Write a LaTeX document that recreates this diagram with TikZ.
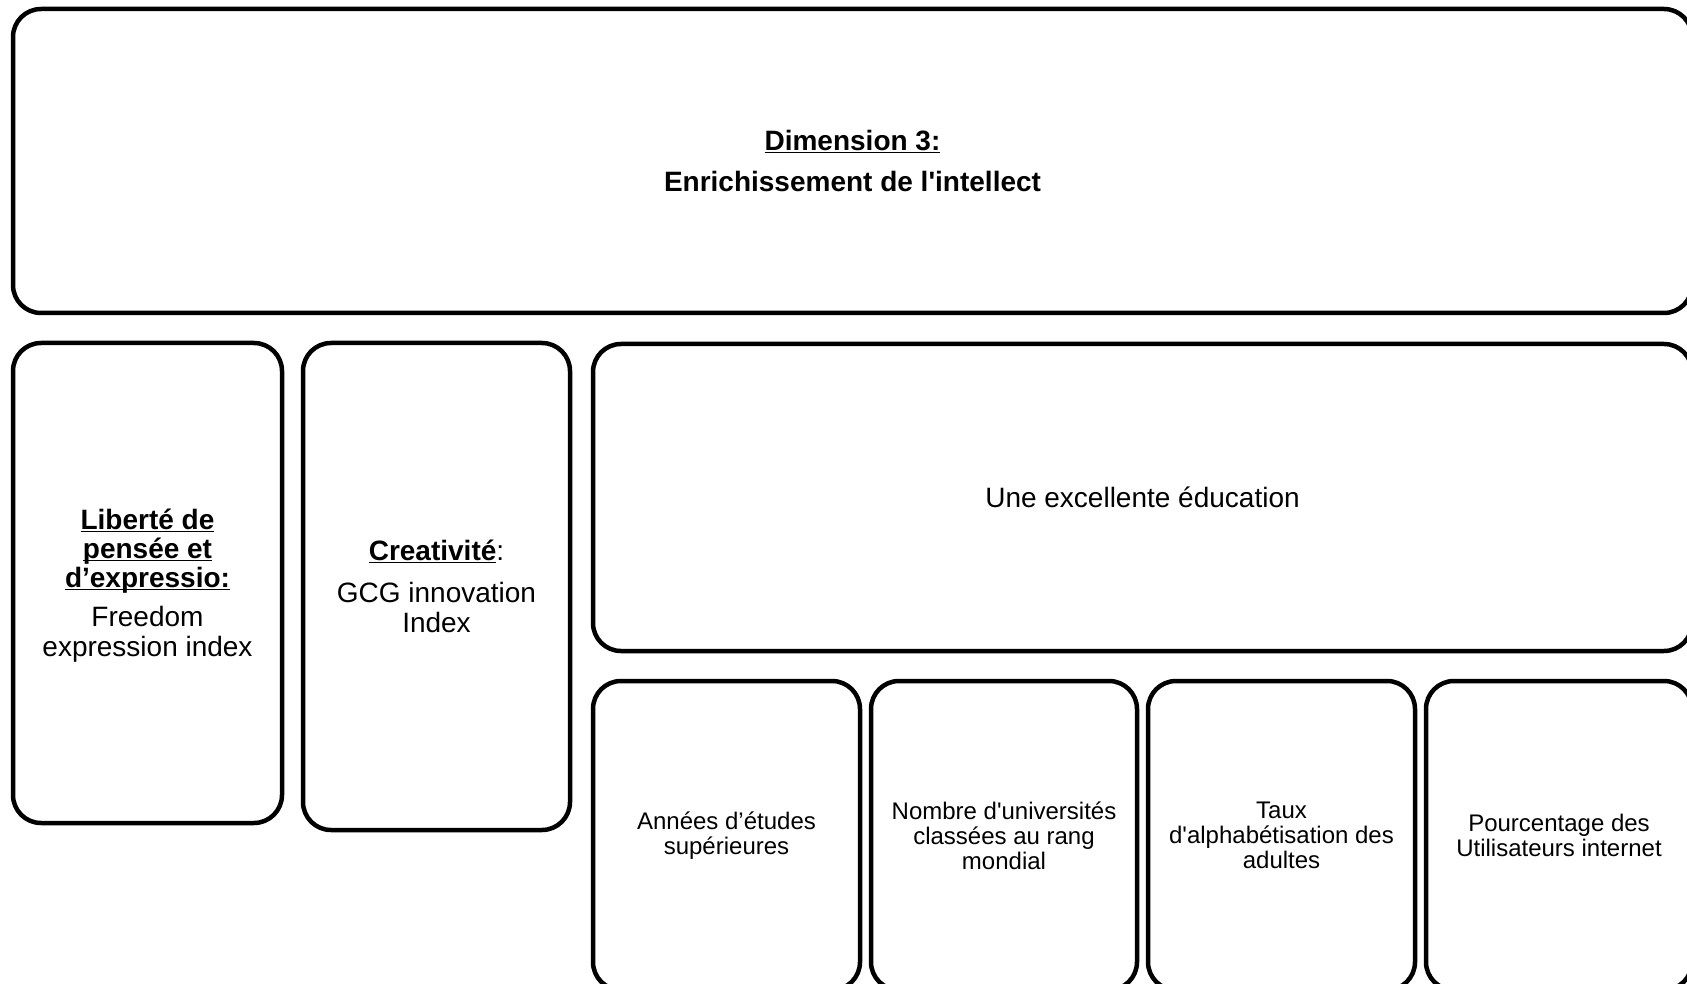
\documentclass[tikz,border=0pt]{standalone}
\usepackage{fontspec}
\setmainfont{Liberation Sans}[Ligatures=TeXOff]
\usepackage{tikz}
\usetikzlibrary{positioning}
\newcommand{\uln}[1]{\underline{\smash{#1}}}

\begin{document}
\begin{tikzpicture}[x=1pt,y=-1pt,
	box/.style={draw,line width=4.5pt,rounded corners=28pt,inner sep=0pt,align=center},
	big/.style={font=\fontsize{28}{30}\selectfont,align=center},
	small/.style={font=\fontsize{24}{25}\selectfont}]
	\useasboundingbox (0,0) rectangle (1687,984);
	\clip (0,0) rectangle (1687,984);
	% dimension
	\node (dim) at (852.5,161) [box,minimum width=1679,minimum height=304] {};
	\node (dimtxt) at ([yshift=-10pt]dim.center) [big]
		{\textbf{\uln{Dimension 3:}}\\[11pt]\textbf{Enrichissement de l'intellect}};
	% left column
	\node (lib) at (147.5,583) [box,minimum width=269,minimum height=480] {};
	\node (libtxt) at ([yshift=-13pt]lib.center) [big]
		{\textbf{\uln{Liberté de}}\\[-1pt]\textbf{\uln{pensée et}}\\[-1pt]\textbf{\uln{d’expressio:}}\\[9pt]Freedom\\expression index};
	\node (crea) at (436.5,586.5) [box,minimum width=267,minimum height=487] {};
	\node (creatxt) at ([yshift=-3pt]crea.center) [big]
		{\textbf{\uln{Creativité}}:\\[12pt]GCG innovation\\Index};
	% education
	\node (edu) at (1142.5,497.5) [box,big,minimum width=1099,minimum height=307]
		{Une excellente éducation};
	\node (annees) at (726.5,835.5) [box,small,minimum width=267,minimum height=309]
		{Années d’études\\supérieures};
	\node (univ) at (1004,835.5) [box,small,minimum width=266,minimum height=309]
		{Nombre d'universités\\classées au rang\\mondial};
	\node (alpha) at (1281.5,835.5) [box,small,minimum width=267,minimum height=309]
		{Taux\\d'alphabétisation des\\adultes};
	\node (inet) at (1559,835.5) [box,small,minimum width=266,minimum height=309]
		{Pourcentage des\\Utilisateurs internet};
\end{tikzpicture}
\end{document}
